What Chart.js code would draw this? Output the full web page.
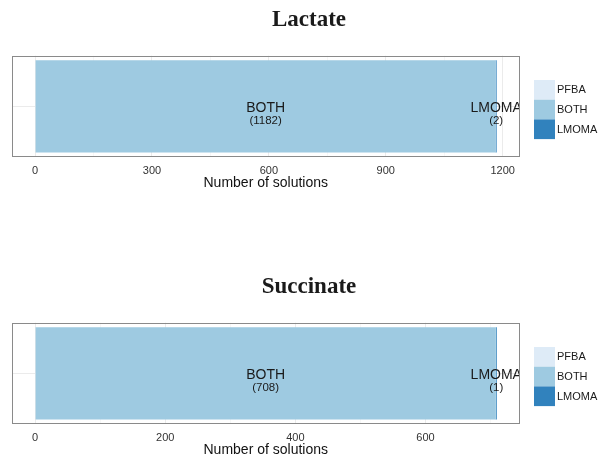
<!DOCTYPE html>
<html>
<head>
<meta charset="utf-8">
<script src="https://cdn.jsdelivr.net/npm/chart.js@4/dist/chart.umd.min.js"></script>
<style>
  html, body { margin: 0; padding: 0; background: #fff; overflow: hidden; width: 599px; height: 454px; }
  .panel { position: absolute; left: 0; width: 599px; height: 197px; }
</style>
</head>
<body>
<div class="panel" style="top:0"><canvas id="lactate" width="599" height="197"></canvas></div>
<div class="panel" style="top:267px"><canvas id="succinate" width="599" height="197"></canvas></div>
<script>
// Series shared by both panels (stack order left to right: PFBA, BOTH, LMOMA)
const seriesNames = ['PFBA', 'BOTH', 'LMOMA'];
const seriesColors = ['#deebf7', '#9ecae1', '#3182bd'];

// Lactate panel
const lactateTitle = 'Lactate';
const lactateValues = [0, 1182, 2];
const lactateTicks = [0, 300, 600, 900, 1200];
const lactateMinorTicks = [150, 450, 750, 1050];

// Succinate panel
const succinateTitle = 'Succinate';
const succinateValues = [0, 708, 1];
const succinateTicks = [0, 200, 400, 600];
const succinateMinorTicks = [100, 300, 500, 700];

const axisTitle = 'Number of solutions';

const SANS = '"Liberation Sans", Arial, Helvetica, sans-serif';
const SERIF = '"Liberation Serif", "Times New Roman", serif';

// Draws segment labels, panel border, panel title and the legend
const panelDecor = {
  id: 'panelDecor',
  afterDatasetsDraw(chart) {
    const { ctx, chartArea: a } = chart;
    ctx.save();
    ctx.beginPath();
    ctx.rect(a.left, a.top, a.right - a.left, a.bottom - a.top);
    ctx.clip();
    ctx.fillStyle = '#1a1a1a';
    ctx.textAlign = 'center';
    ctx.textBaseline = 'middle';
    chart.data.datasets.forEach((ds, i) => {
      const v = ds.data[0];
      if (!v) return;
      const el = chart.getDatasetMeta(i).data[0];
      const cx = (el.x + el.base) / 2;
      const cy = el.y;
      ctx.font = '14px ' + SANS;
      ctx.fillText(ds.label, cx, cy + 1.5);
      ctx.font = '11.5px ' + SANS;
      ctx.fillText('(' + v + ')', cx, cy + 14);
    });
    ctx.restore();

    // panel border
    ctx.save();
    ctx.strokeStyle = '#8a8a8a';
    ctx.lineWidth = 1;
    const l = Math.round(a.left) + 0.5, t = Math.round(a.top) + 0.5;
    const r = Math.round(a.right) - 0.5, b = Math.round(a.bottom) - 0.5;
    ctx.strokeRect(l, t, r - l, b - t);
    ctx.restore();
  },
  afterDraw(chart, args, opts) {
    const { ctx, chartArea: a } = chart;
    ctx.save();
    // title
    ctx.fillStyle = '#1a1a1a';
    ctx.textAlign = 'center';
    ctx.textBaseline = 'middle';
    ctx.font = 'bold 23px ' + SERIF;
    ctx.fillText(opts.title, 309, 20.5);

    // legend: stacked square keys with labels on the right
    const keyX = 534, keyW = 21, keyH = 19.7;
    const keyTop = a.top + 24.3;
    ctx.textAlign = 'left';
    ctx.font = '11px ' + SANS;
    chart.data.datasets.forEach((ds, i) => {
      const y = keyTop + i * keyH;
      ctx.fillStyle = ds.backgroundColor;
      ctx.fillRect(keyX, y, keyW, keyH);
      ctx.fillStyle = '#1a1a1a';
      ctx.fillText(ds.label, keyX + 23, y + keyH / 2 + 0.5);
    });
    ctx.restore();
  }
};

function buildChart(id, titleText, values, majorTicks, minorTicks) {
  const total = values.reduce((s, v) => s + v, 0);
  const pad = total * 0.05;
  const allTicks = majorTicks.concat(minorTicks).sort((p, q) => p - q);
  const isMajor = v => majorTicks.includes(v);

  return new Chart(document.getElementById(id), {
    type: 'bar',
    data: {
      labels: [''],
      datasets: seriesNames.map((name, i) => ({
        label: name,
        data: [values[i]],
        backgroundColor: seriesColors[i],
        borderWidth: 0,
        barPercentage: 0.912,
        categoryPercentage: 1,
        // keep the thin trailing segment visible as a 1px sliver
        minBarLength: values[i] > 0 ? 1 : 0
      }))
    },
    options: {
      indexAxis: 'y',
      responsive: false,
      animation: false,
      devicePixelRatio: 1,
      layout: { padding: { left: 12, right: 79.5, top: 55.7, bottom: 0 } },
      plugins: {
        legend: { display: false },
        tooltip: { enabled: false },
        panelDecor: { title: titleText }
      },
      scales: {
        x: {
          type: 'linear',
          stacked: true,
          min: -pad,
          max: total + pad,
          afterBuildTicks: s => { s.ticks = allTicks.map(v => ({ value: v })); },
          afterFit: s => { s.height = 40; },
          grid: {
            drawTicks: false,
            color: c => (c.tick && isMajor(c.tick.value)) ? '#ebebeb' : '#f4f4f4',
            lineWidth: c => (c.tick && isMajor(c.tick.value)) ? 1 : 0.7
          },
          border: { display: false },
          ticks: {
            callback: v => isMajor(v) ? String(v) : '',
            font: { size: 11, family: SANS },
            color: '#333333',
            padding: 7,
            maxRotation: 0,
            autoSkip: false
          },
          title: {
            display: true,
            text: axisTitle,
            font: { size: 14, family: SANS },
            color: '#111111',
            padding: { top: 0, bottom: 5.4 }
          }
        },
        y: {
          stacked: true,
          afterFit: s => { s.width = 0; },
          ticks: { display: false },
          grid: { offset: false, drawTicks: false, color: '#ebebeb' },
          border: { display: false }
        }
      }
    },
    plugins: [panelDecor]
  });
}

buildChart('lactate', lactateTitle, lactateValues, lactateTicks, lactateMinorTicks);
buildChart('succinate', succinateTitle, succinateValues, succinateTicks, succinateMinorTicks);
</script>
</body>
</html>
